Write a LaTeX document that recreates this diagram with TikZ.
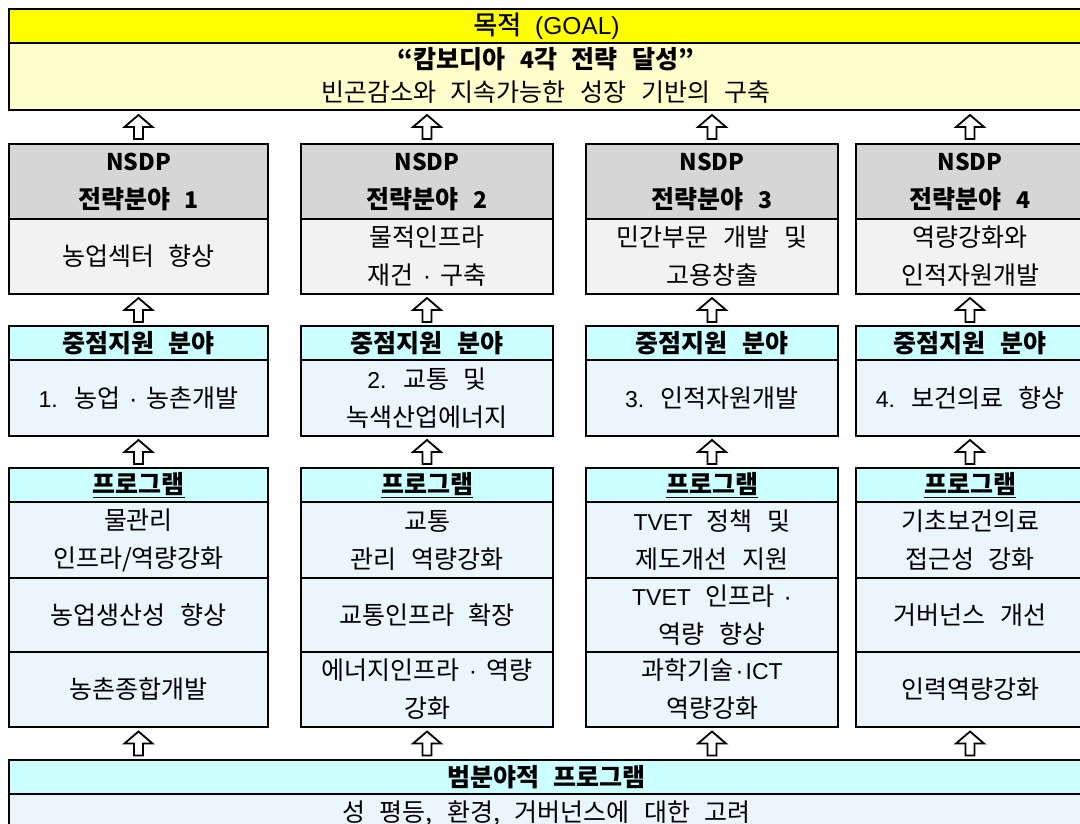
\documentclass[tikz,border=0pt]{standalone}
\usepackage{fontspec}
\setmainfont{Noto Sans CJK KR}[WordSpace=2.6]
\newfontfamily\goalfont{Noto Sans CJK KR}[WordSpace=2.4,FakeBold=1.2]
\newfontfamily\latf{Liberation Sans}
\newcommand\lat[1]{{\latf\fontsize{23}{38}\selectfont #1}}
\newcommand\latb[1]{{\fontsize{23}{38}\selectfont #1}}
\newcommand\md{{\latf ·}}
\newcommand\sd{\hspace{9pt}\md\hspace{9pt}}
\usetikzlibrary{fit}
\definecolor{yelH}{HTML}{FFFF00}
\definecolor{yelB}{HTML}{FFFFCC}
\definecolor{grayH}{HTML}{D6D6D6}
\definecolor{grayB}{HTML}{F2F2F2}
\definecolor{cyanH}{HTML}{CCFFFF}
\definecolor{blueB}{HTML}{EAF5FC}
\newcommand\mycell[8]{%
  \filldraw[cellline, fill=#5] (#1,#2) rectangle (#3,#4);
  \node[#7] (#6) at ({(#1+#3)/2},{(#2+#4)/2}) {#8};}
\newcommand\myframe[5]{%
  \coordinate (#5-tl) at (#1,#2); \coordinate (#5-br) at (#3,#4);
  \node[frame, fit=(#5-tl)(#5-br)] (#5) {};}
\newcommand\blockarr[3]{%
  \path (#2.north -| #1) -- (#3.south -| #1) coordinate[midway] (am);
  \draw[arrowshape] ([yshift=12pt]am) -- ++(14,12) -- ++(-9.5,0) -- ++(0,12) -- ++(-9,0) -- ++(0,-12) -- ++(-9.5,0) -- cycle;}
\begin{document}
\begin{tikzpicture}[x=1pt,y=-1pt,
  frame/.style={draw=black, line width=2.8pt, inner sep=0pt},
  cellline/.style={draw=black, line width=1.1pt},
  txt/.style={font=\fontsize{25}{38}\selectfont, align=center, inner sep=0pt, text=black},
  btxt/.style={font=\fontsize{25}{38}\selectfont\bfseries, align=center, inner sep=0pt, text=black},
  gtxt/.style={font=\fontsize{26}{38}\goalfont, align=center, inner sep=0pt, text=black},
  arrowshape/.style={draw=black, line width=1.8pt, fill=white, line join=miter}]
\useasboundingbox (0,0) rectangle (1080,824);
\clip (0,0) rectangle (1080,824);
\fill[white] (0,0) rectangle (1080,824);

% Goal
\mycell{9}{9}{1084}{43}{yelH}{goalh}{gtxt}{목적 {\latf\fontsize{24.5}{38}\selectfont (GOAL)}}
\mycell{9}{43}{1084}{110}{yelB}{goalb}{txt}{}
\node[btxt] (goal1) at (546,59) {“캄보디아 \latb{4}각 전략 달성”};
\node[txt] (goal2) at (546,92) {빈곤감소와 지속가능한 성장 기반의 구축};
\myframe{9}{9}{1084}{110}{goal}

% Column 1
\mycell{9}{144}{268}{219}{grayH}{n1h}{btxt}{\latb{NSDP}\\전략분야 \latb{1}}
\mycell{9}{219}{268}{294}{grayB}{n1b}{txt}{농업섹터 향상}
\myframe{9}{144}{268}{294}{n1}
\mycell{9}{326}{268}{360}{cyanH}{f1h}{btxt}{중점지원 분야}
\mycell{9}{360}{268}{436}{blueB}{f1b}{txt}{\lat{1.} 농업\sd 농촌개발}
\myframe{9}{326}{268}{436}{f1}
\mycell{9}{468}{268}{502}{cyanH}{p1h}{btxt}{\underline{프로그램}}
\mycell{9}{502}{268}{578}{blueB}{p1a}{txt}{물관리\\인프라/역량강화}
\mycell{9}{578}{268}{652}{blueB}{p1b}{txt}{농업생산성 향상}
\mycell{9}{652}{268}{727}{blueB}{p1c}{txt}{농촌종합개발}
\myframe{9}{468}{268}{727}{p1}

% Column 2
\mycell{301}{144}{553}{219}{grayH}{n2h}{btxt}{\latb{NSDP}\\전략분야 \latb{2}}
\mycell{301}{219}{553}{294}{grayB}{n2b}{txt}{물적인프라\\재건\sd 구축}
\myframe{301}{144}{553}{294}{n2}
\mycell{301}{326}{553}{360}{cyanH}{f2h}{btxt}{중점지원 분야}
\mycell{301}{360}{553}{436}{blueB}{f2b}{txt}{\lat{2.} 교통 및\\녹색산업에너지}
\myframe{301}{326}{553}{436}{f2}
\mycell{301}{468}{553}{502}{cyanH}{p2h}{btxt}{\underline{프로그램}}
\mycell{301}{502}{553}{578}{blueB}{p2a}{txt}{교통\\관리 역량강화}
\mycell{301}{578}{553}{652}{blueB}{p2b}{txt}{교통인프라 확장}
\mycell{301}{652}{553}{727}{blueB}{p2c}{txt}{에너지인프라\sd 역량\\강화}
\myframe{301}{468}{553}{727}{p2}

% Column 3
\mycell{586}{144}{838}{219}{grayH}{n3h}{btxt}{\latb{NSDP}\\전략분야 \latb{3}}
\mycell{586}{219}{838}{294}{grayB}{n3b}{txt}{민간부문 개발 및\\고용창출}
\myframe{586}{144}{838}{294}{n3}
\mycell{586}{326}{838}{360}{cyanH}{f3h}{btxt}{중점지원 분야}
\mycell{586}{360}{838}{436}{blueB}{f3b}{txt}{\lat{3.} 인적자원개발}
\myframe{586}{326}{838}{436}{f3}
\mycell{586}{468}{838}{502}{cyanH}{p3h}{btxt}{\underline{프로그램}}
\mycell{586}{502}{838}{578}{blueB}{p3a}{txt}{\lat{TVET} 정책 및\\제도개선 지원}
\mycell{586}{578}{838}{652}{blueB}{p3b}{txt}{\lat{TVET} 인프라\hspace{9pt}\md\\역량 향상}
\mycell{586}{652}{838}{727}{blueB}{p3c}{txt}{과학기술\hspace{2pt}\md\hspace{2pt}\lat{ICT}\\역량강화}
\myframe{586}{468}{838}{727}{p3}

% Column 4
\mycell{856}{144}{1084}{219}{grayH}{n4h}{btxt}{\latb{NSDP}\\전략분야 \latb{4}}
\mycell{856}{219}{1084}{294}{grayB}{n4b}{txt}{역량강화와\\인적자원개발}
\myframe{856}{144}{1084}{294}{n4}
\mycell{856}{326}{1084}{360}{cyanH}{f4h}{btxt}{중점지원 분야}
\mycell{856}{360}{1084}{436}{blueB}{f4b}{txt}{\lat{4.} 보건의료 향상}
\myframe{856}{326}{1084}{436}{f4}
\mycell{856}{468}{1084}{502}{cyanH}{p4h}{btxt}{\underline{프로그램}}
\mycell{856}{502}{1084}{578}{blueB}{p4a}{txt}{기초보건의료\\접근성 강화}
\mycell{856}{578}{1084}{652}{blueB}{p4b}{txt}{거버넌스 개선}
\mycell{856}{652}{1084}{727}{blueB}{p4c}{txt}{인력역량강화}
\myframe{856}{468}{1084}{727}{p4}

% Bottom
\mycell{9}{760}{1084}{794}{cyanH}{bh}{btxt}{범분야적 프로그램}
\mycell{9}{794}{1084}{832}{blueB}{bb}{txt}{성 평등, 환경, 거버넌스에 대한 고려}
\myframe{9}{760}{1084}{832}{bot}

% Arrows
\foreach \i in {1,2,3,4}{
  \blockarr{n\i}{n\i}{goal}
  \blockarr{f\i}{f\i}{n\i}
  \blockarr{p\i}{p\i}{f\i}
  \blockarr{p\i}{bot}{p\i}
}
\end{tikzpicture}
\end{document}
